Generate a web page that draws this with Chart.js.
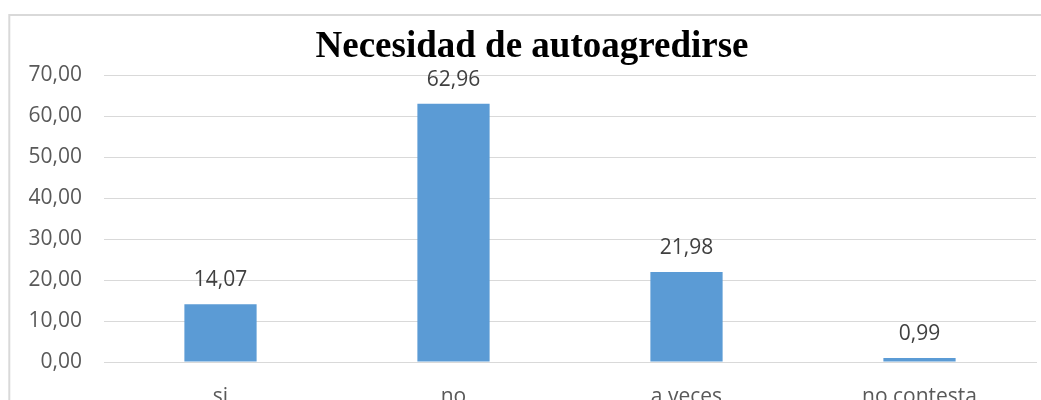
<!DOCTYPE html>
<html>
<head>
<meta charset="utf-8">
<title>Necesidad de autoagredirse</title>
<script src="https://cdn.jsdelivr.net/npm/chart.js@4.4.1/dist/chart.umd.min.js"></script>
<style>
  html, body { margin: 0; padding: 0; background: #ffffff; }
  #wrap { width: 1041px; height: 400px; position: relative; }
</style>
</head>
<body>
<div id="wrap"><canvas id="chart" width="1041" height="400"></canvas></div>
<script>
// Chart data
const chartTitle = 'Necesidad de autoagredirse';
const categories = ['si', 'no', 'a veces', 'no contesta'];
const percentages = [14.07, 62.96, 21.98, 0.99];
const yTickValues = [0, 10, 20, 30, 40, 50, 60, 70];

const fmt = v => v.toFixed(2).replace('.', ',');

// Light frame around the whole figure
const framePlugin = {
  id: 'frame',
  beforeDraw(chart) {
    const ctx = chart.ctx;
    ctx.save();
    ctx.fillStyle = '#ffffff';
    ctx.fillRect(0, 0, chart.width, chart.height);
    ctx.strokeStyle = '#d9d9d9';
    ctx.lineWidth = 2;
    ctx.strokeRect(9.3, 15, chart.width + 40, chart.height + 40);
    ctx.restore();
  }
};

// Value labels above each bar
const valueLabelPlugin = {
  id: 'valueLabels',
  afterDatasetsDraw(chart) {
    const ctx = chart.ctx;
    const meta = chart.getDatasetMeta(0);
    ctx.save();
    ctx.font = '21px "Open Sans", sans-serif';
    ctx.fillStyle = '#404040';
    ctx.textAlign = 'center';
    ctx.textBaseline = 'alphabetic';
    meta.data.forEach((bar, i) => {
      ctx.fillText(fmt(chart.data.datasets[0].data[i]), bar.x, bar.y - 18);
    });
    ctx.restore();
  }
};

new Chart(document.getElementById('chart'), {
  type: 'bar',
  data: {
    labels: categories,
    datasets: [{
      data: percentages,
      backgroundColor: '#5b9bd5',
      borderWidth: 0,
      categoryPercentage: 1.0,
      barPercentage: 0.31
    }]
  },
  options: {
    responsive: false,
    animation: false,
    devicePixelRatio: 1,
    layout: { padding: { left: 28, right: 5, top: 0, bottom: 0 } },
    plugins: {
      legend: { display: false },
      tooltip: { enabled: false },
      title: {
        display: true,
        text: chartTitle,
        color: '#000000',
        font: { family: '"Liberation Serif", "Times New Roman", serif', size: 37, weight: 'bold', lineHeight: 1.2 },
        padding: { top: 25.5, bottom: 5.1 }
      }
    },
    scales: {
      x: {
        grid: { display: false, drawTicks: false },
        border: { display: true, color: '#d9d9d9', width: 1 },
        ticks: {
          color: '#595959',
          font: { family: '"Open Sans", sans-serif', size: 21 },
          padding: 22,
          maxRotation: 0
        },
        afterFit(scale) { scale.height = 38; }
      },
      y: {
        min: 0,
        max: 70,
        afterBuildTicks(scale) { scale.ticks = yTickValues.map(v => ({ value: v })); },
        grid: { color: '#d9d9d9', lineWidth: 1, drawTicks: false },
        border: { display: false },
        ticks: {
          color: '#595959',
          font: { family: '"Open Sans", sans-serif', size: 21 },
          padding: 22,
          callback: v => fmt(v)
        },
        afterFit(scale) { scale.width = 76; }
      }
    }
  },
  plugins: [framePlugin, valueLabelPlugin]
});
</script>
</body>
</html>
